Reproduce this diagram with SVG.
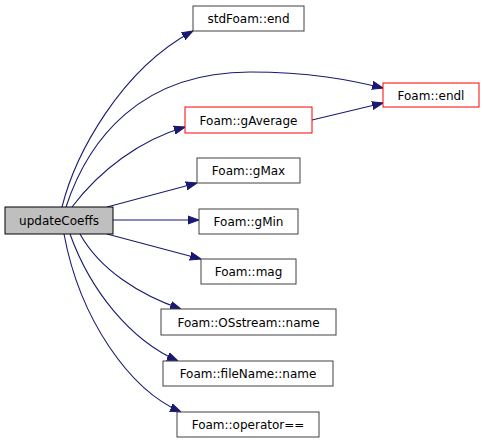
<svg xmlns="http://www.w3.org/2000/svg" width="484" height="443" viewBox="0 0 484 443">
<style>
.n rect{fill:#fff;stroke:#404040;stroke-width:1}
.n.r rect{stroke:#ff0000}
.n.m rect{fill:#bfbfbf;stroke:#000}
.n text{font-family:"DejaVu Sans",sans-serif;font-size:12px;text-anchor:middle;fill:#000}
.e path{fill:none;stroke:#191970;stroke-width:1.1}
</style>
<defs>
<marker id="a" viewBox="0 0 11 10" refX="11" refY="5" markerWidth="11" markerHeight="10" markerUnits="userSpaceOnUse" orient="auto">
<path d="M0,1 L11,5 L0,9 Z" fill="#191970" stroke="#191970"/>
</marker>
</defs>
<g id="connectors" class="e">
<path d="M62,207 C75,155 120,70 193,31" marker-end="url(#a)"/>
<path d="M66,207 C88,140 140,72 250,72 C310,72 350,80 383,88" marker-end="url(#a)"/>
<path d="M72,207 C100,170 140,140 185,127" marker-end="url(#a)"/>
<path d="M312,120 L383,103" marker-end="url(#a)"/>
<path d="M107,207 L197,183" marker-end="url(#a)"/>
<path d="M113,220 L199,220" marker-end="url(#a)"/>
<path d="M107,234 L201,259" marker-end="url(#a)"/>
<path d="M80,234 C100,270 140,295 181,309" marker-end="url(#a)"/>
<path d="M70,234 C90,290 130,340 178,361" marker-end="url(#a)"/>
<path d="M64,234 C80,320 130,390 181,412" marker-end="url(#a)"/>
</g>
<g id="updateCoeffs" class="n m"><rect x="5" y="207" width="108" height="27"/><text x="59" y="225">updateCoeffs</text></g>
<g id="stdFoam_end" class="n"><rect x="193" y="6" width="111" height="25"/><text x="248.5" y="23">stdFoam::end</text></g>
<g id="Foam_endl" class="n r"><rect x="383" y="83" width="96" height="24"/><text x="431" y="99.5">Foam::endl</text></g>
<g id="Foam_gAverage" class="n r"><rect x="185" y="107" width="127" height="26"/><text x="248.5" y="124.5">Foam::gAverage</text></g>
<g id="Foam_gMax" class="n"><rect x="197" y="158" width="103" height="25"/><text x="248.5" y="175">Foam::gMax</text></g>
<g id="Foam_gMin" class="n"><rect x="199" y="209" width="99" height="25"/><text x="248.5" y="226">Foam::gMin</text></g>
<g id="Foam_mag" class="n"><rect x="201" y="259" width="95" height="25"/><text x="248.5" y="276">Foam::mag</text></g>
<g id="Foam_OSstream_name" class="n"><rect x="161" y="309" width="175" height="26"/><text x="248.5" y="326.5">Foam::OSstream::name</text></g>
<g id="Foam_fileName_name" class="n"><rect x="163" y="361" width="170" height="25"/><text x="248" y="378">Foam::fileName::name</text></g>
<g id="Foam_operator_eq" class="n"><rect x="177" y="412" width="142" height="25"/><text x="248" y="429">Foam::operator==</text></g>
</svg>
